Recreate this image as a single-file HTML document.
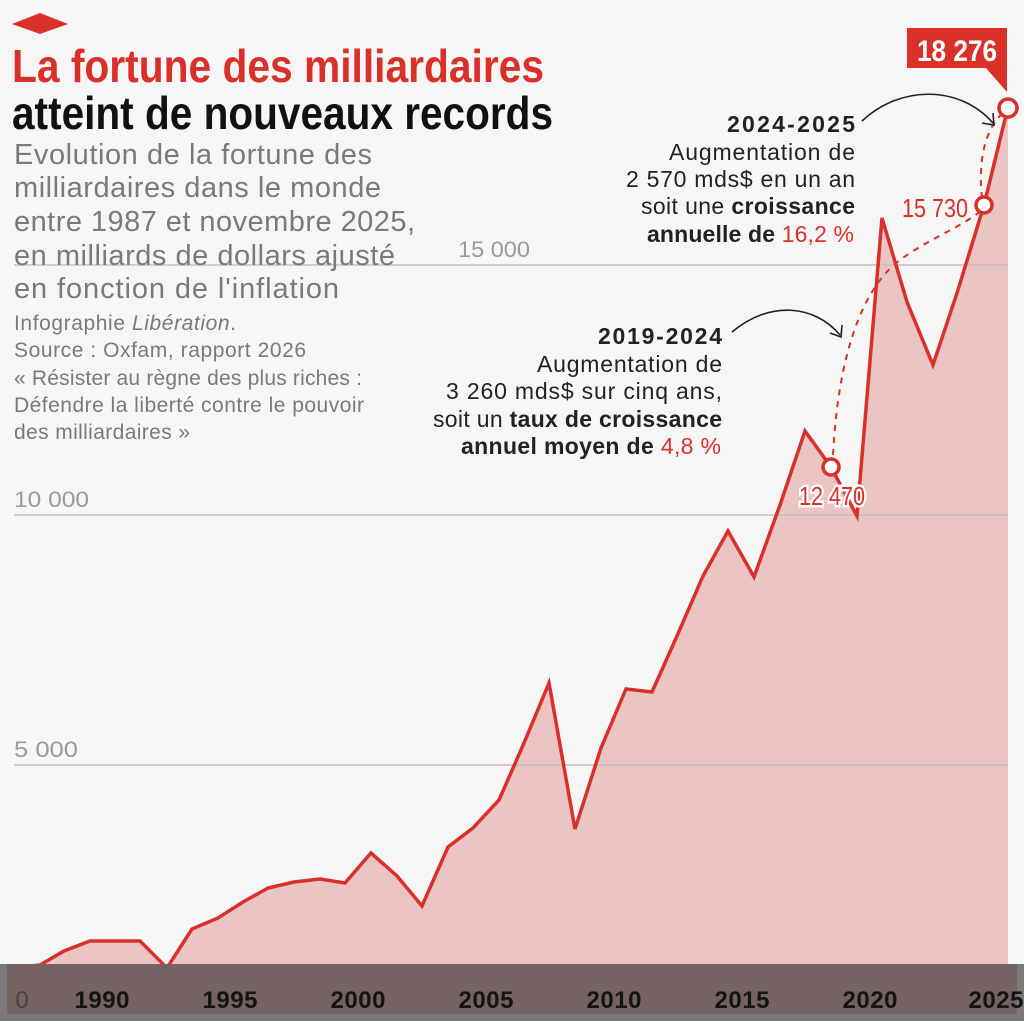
<!DOCTYPE html>
<html><head><meta charset="utf-8"><style>
html,body{margin:0;padding:0;background:#f6f6f6;}
body{width:1024px;height:1021px;overflow:hidden;position:relative;font-family:"Liberation Sans",sans-serif;}
svg{position:absolute;left:0;top:0;}
</style></head><body>
<svg width="1024" height="1021" viewBox="0 0 1024 1021" xmlns="http://www.w3.org/2000/svg">
<rect width="1024" height="1021" fill="#f6f6f6"/>
<path d="M14,968 L40,965 L64,951 L90,941 L115,941 L140,941 L167,968 L192,929 L218,918 L243,902 L268,888 L294,882 L320,879 L345,883 L371,853 L397,876 L422,906 L448,847 L473,828 L499,800 L524,743 L549,683 L575,829 L601,748 L626,689 L652,692 L677,636 L703,576 L728,531 L754,577 L780,505 L805,431 L831,467 L857,516 L882,218 L907,302 L933,365 L958,290 L984,205 L1008,107 L1008,1021 L14,1021 Z" fill="#ebc4c4"/>
<g stroke="#c8c0c0" stroke-width="2" opacity="0.8">
<line x1="14" y1="265" x2="1008" y2="265"/>
<line x1="14" y1="515" x2="1008" y2="515"/>
<line x1="14" y1="765" x2="1008" y2="765"/>
</g>
<g font-size="22" fill="#9a9a9a">
<text x="458" y="257" textLength="72" lengthAdjust="spacingAndGlyphs">15 000</text>
<text x="14" y="507" textLength="75" lengthAdjust="spacingAndGlyphs">10 000</text>
<text x="14" y="757" textLength="64" lengthAdjust="spacingAndGlyphs">5 000</text>
</g>
<path d="M14,968 L40,965 L64,951 L90,941 L115,941 L140,941 L167,968 L192,929 L218,918 L243,902 L268,888 L294,882 L320,879 L345,883 L371,853 L397,876 L422,906 L448,847 L473,828 L499,800 L524,743 L549,683 L575,829 L601,748 L626,689 L652,692 L677,636 L703,576 L728,531 L754,577 L780,505 L805,431 L831,467 L857,516 L882,218 L907,302 L933,365 L958,290 L984,205 L1008,107" fill="none" stroke="#d9302a" stroke-width="3.5" stroke-linejoin="miter"/>
<path d="M833,455 C838,360 860,290 900,260 C930,238 960,228 982,210" fill="none" stroke="#d9302a" stroke-width="2" stroke-dasharray="6,6"/>
<path d="M982,198 C978,160 985,128 1004,112" fill="none" stroke="#d9302a" stroke-width="2" stroke-dasharray="6,6"/>
<path d="M732,332 C770,300 815,305 840,335" fill="none" stroke="#222" stroke-width="1.6"/>
<path d="M830,333 L841,337 L842,325" fill="none" stroke="#222" stroke-width="1.6"/>
<path d="M862,121 C900,85 960,85 993,123" fill="none" stroke="#222" stroke-width="1.6"/>
<path d="M982,123 L994,125 L993,113" fill="none" stroke="#222" stroke-width="1.6"/>
<g fill="#fff" stroke="#d9302a" stroke-width="3.5">
<circle cx="831" cy="467" r="8"/>
<circle cx="984" cy="205" r="8"/>
<circle cx="1008" cy="108" r="9"/>
</g>
<rect x="907" y="28" width="100" height="40" fill="#d9302a"/>
<path d="M985,67 L1007,67 L1007,92 Z" fill="#d9302a"/>
<text x="957" y="61" text-anchor="middle" font-family="Liberation Sans Narrow, Liberation Sans, sans-serif" font-weight="bold" font-size="30" fill="#fff" textLength="80" lengthAdjust="spacingAndGlyphs">18 276</text>
<text x="968" y="217" text-anchor="end" font-family="Liberation Sans Narrow, Liberation Sans, sans-serif" font-size="26" fill="#d9302a" textLength="66" lengthAdjust="spacingAndGlyphs">15 730</text>
<text x="832" y="505" text-anchor="middle" font-family="Liberation Sans Narrow, Liberation Sans, sans-serif" font-size="26" fill="#d9302a" stroke="#fff" stroke-width="5" paint-order="stroke" textLength="66" lengthAdjust="spacingAndGlyphs">12 470</text>
<g font-size="23" fill="#222" text-anchor="end" lengthAdjust="spacingAndGlyphs">
<text x="855" y="132" font-weight="bold" textLength="128">2024-2025</text>
<text x="855" y="160" textLength="186">Augmentation de</text>
<text x="855" y="187" textLength="229">2 570 mds$ en un an</text>
<text x="855" y="214" textLength="214">soit une <tspan font-weight="bold">croissance</tspan></text>
<text x="854" y="242" font-weight="bold" textLength="207">annuelle de <tspan fill="#d9302a" font-weight="normal">16,2 %</tspan></text>
<text x="722" y="344" font-weight="bold" textLength="124">2019-2024</text>
<text x="722" y="372" textLength="185">Augmentation de</text>
<text x="722" y="399" textLength="276">3 260 mds$ sur cinq ans,</text>
<text x="722" y="427" textLength="289">soit un <tspan font-weight="bold">taux de croissance</tspan></text>
<text x="721" y="454" font-weight="bold" textLength="260">annuel moyen de <tspan fill="#d9302a" font-weight="normal">4,8 %</tspan></text>
</g>
<path d="M12,24 L40,13 L68,24 L40,34 Z" fill="#d9302a"/>
<text x="12" y="82" font-family="Liberation Sans Narrow, Liberation Sans, sans-serif" font-weight="bold" font-size="46" fill="#d9302a" textLength="532" lengthAdjust="spacingAndGlyphs">La fortune des milliardaires</text>
<text x="12" y="129" font-family="Liberation Sans Narrow, Liberation Sans, sans-serif" font-weight="bold" font-size="46" fill="#111" textLength="541" lengthAdjust="spacingAndGlyphs">atteint de nouveaux records</text>
<g font-size="29" fill="#7a7a7a" lengthAdjust="spacingAndGlyphs">
<text x="14" y="164" textLength="358">Evolution de la fortune des</text>
<text x="14" y="197" textLength="367">milliardaires dans le monde</text>
<text x="14" y="231" textLength="401">entre 1987 et novembre 2025,</text>
<text x="14" y="265" textLength="381">en milliards de dollars ajusté</text>
<text x="14" y="298" textLength="325">en fonction de l'inflation</text>
</g>
<g font-size="21" fill="#7a7a7a" lengthAdjust="spacingAndGlyphs">
<text x="14" y="330" textLength="222">Infographie <tspan font-style="italic">Libération</tspan>.</text>
<text x="14" y="357" textLength="292">Source : Oxfam, rapport 2026</text>
<text x="14" y="385" textLength="348">« Résister au règne des plus riches :</text>
<text x="14" y="412" textLength="350">Défendre la liberté contre le pouvoir</text>
<text x="14" y="439" textLength="176">des milliardaires »</text>
</g>
<rect x="0" y="964" width="1024" height="57" fill="#7a7a7a"/>
<rect x="7" y="964" width="1010" height="50" fill="#756262"/>
<g font-size="24" font-weight="bold" fill="#141414" text-anchor="middle" lengthAdjust="spacingAndGlyphs">
<text x="22" y="1008" fill="#4a4040" font-weight="normal">0</text>
<text x="102" y="1008" textLength="55">1990</text>
<text x="230" y="1008" textLength="55">1995</text>
<text x="358" y="1008" textLength="55">2000</text>
<text x="486" y="1008" textLength="55">2005</text>
<text x="614" y="1008" textLength="55">2010</text>
<text x="742" y="1008" textLength="55">2015</text>
<text x="870" y="1008" textLength="55">2020</text>
<text x="996" y="1008" textLength="55">2025</text>
</g>
</svg>
</body></html>
